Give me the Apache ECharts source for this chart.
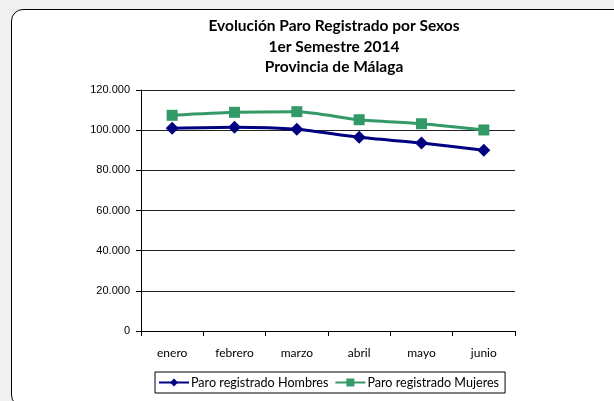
<!DOCTYPE html>
<html>
<head>
<meta charset="utf-8">
<script src="https://cdn.jsdelivr.net/npm/echarts@6/dist/echarts.min.js"></script>
<style>
  html, body { margin: 0; padding: 0; background: #f0f0f0; }
  #frame {
    position: absolute; left: 11px; top: 9px; width: 620px; height: 396px;
    background: #fff; border: 1px solid #000; border-radius: 12px; overflow: hidden;
  }
  #chart { position: absolute; left: -12px; top: -10px; width: 614px; height: 401px; }
</style>
</head>
<body>
<div id="frame"><div id="chart"></div></div>
<script>
const meses = ['enero', 'febrero', 'marzo', 'abril', 'mayo', 'junio'];
const hombres = [100900, 101400, 100400, 96450, 93600, 89970];
const mujeres = [107400, 108900, 109200, 105200, 103200, 100100];
const ticksY = [0, 20000, 40000, 60000, 80000, 100000, 120000];
const titulo = ['Evolución Paro Registrado por Sexos', '1er Semestre 2014', 'Provincia de Málaga'];

const fmt = (v) => String(v).replace(/\B(?=(\d{3})+(?!\d))/g, '.');

const myChart = echarts.init(document.getElementById('chart'));
const option = {
  animation: false,
  graphic: [
    {
      type: 'text',
      x: 334,
      y: 16,
      style: {
        text: titulo.join('\n'),
        align: 'center',
        fontFamily: 'Lato',
        fontSize: 15.5,
        fontWeight: 'bold',
        fill: '#000',
        lineHeight: 20.5
      }
    }
  ],
  grid: { left: 141, right: 99, top: 90, bottom: 70 },
  legend: {
    left: 155,
    top: 372,
    padding: [4, 6, 4, 3],
    borderColor: '#000',
    borderWidth: 1,
    itemWidth: 30,
    itemHeight: 10,
    itemGap: 6,
    textStyle: { fontFamily: 'Lato', fontSize: 12.6, color: '#000', padding: [0, 0, 0, -3] },
    data: ['Paro registrado Hombres', 'Paro registrado Mujeres']
  },
  xAxis: {
    type: 'category',
    data: meses,
    boundaryGap: true,
    axisLine: { lineStyle: { color: '#000', width: 1 } },
    axisTick: { show: true, length: 5, lineStyle: { color: '#000' } },
    axisLabel: { fontFamily: 'Lato', fontSize: 12, color: '#000', margin: 16 }
  },
  yAxis: {
    type: 'value',
    min: ticksY[0],
    max: ticksY[ticksY.length - 1],
    interval: ticksY[1] - ticksY[0],
    axisLine: { show: true, lineStyle: { color: '#000', width: 1 } },
    axisTick: { show: true, length: 5, lineStyle: { color: '#000' } },
    splitLine: { lineStyle: { color: '#222', width: 1 } },
    axisLabel: { fontFamily: 'Liberation Sans', fontSize: 11, color: '#000', margin: 11, formatter: fmt }
  },
  series: [
    {
      name: 'Paro registrado Hombres',
      type: 'line',
      data: hombres,
      smooth: 0.25,
      symbol: 'diamond',
      symbolSize: 13,
      color: '#000080',
      lineStyle: { width: 3, color: '#000080' },
      itemStyle: { color: '#000080' }
    },
    {
      name: 'Paro registrado Mujeres',
      type: 'line',
      data: mujeres,
      smooth: 0.25,
      symbol: 'rect',
      symbolSize: 11,
      color: '#339966',
      lineStyle: { width: 3, color: '#339966' },
      itemStyle: { color: '#339966' }
    }
  ]
};
myChart.setOption(option);
</script>
</body>
</html>
